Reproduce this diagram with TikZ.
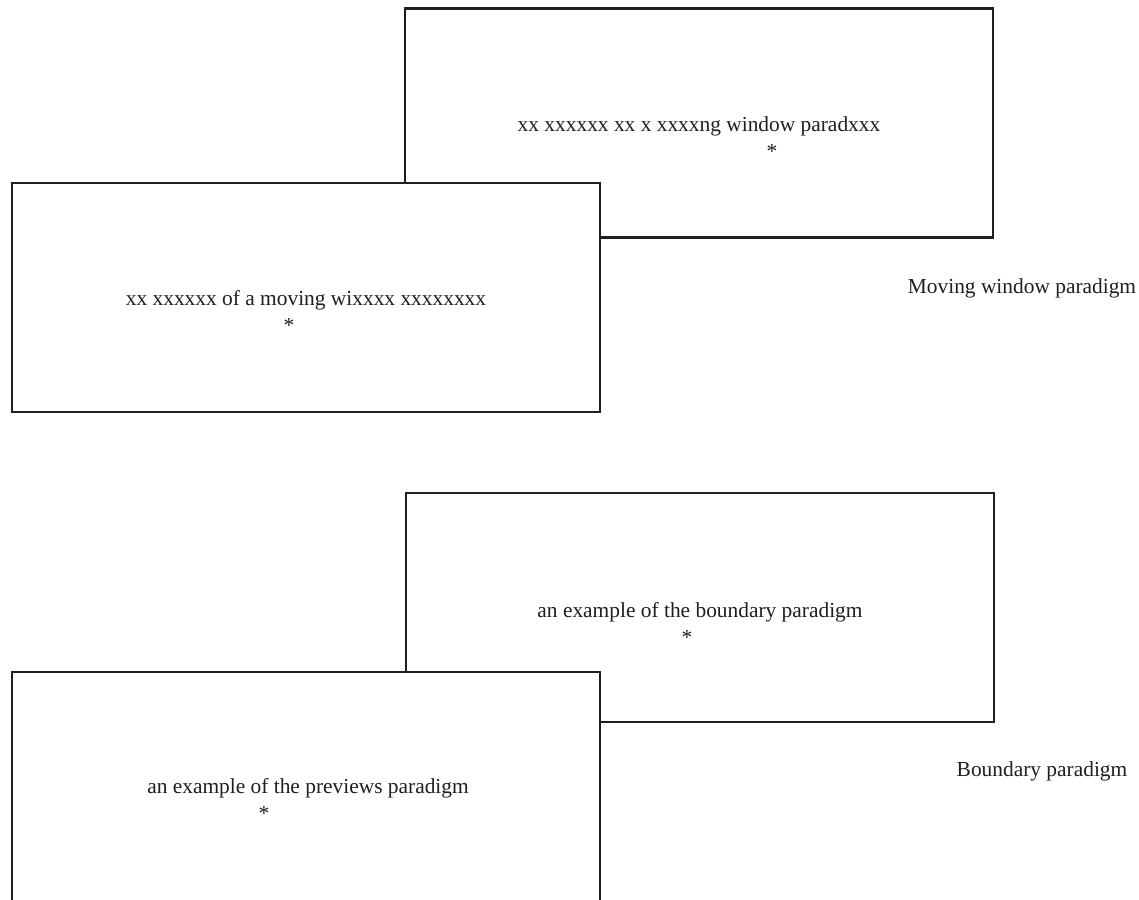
\documentclass[tikz,border=0pt]{standalone}
\usepackage{fontspec}
\setmainfont{Liberation Serif}
\tikzset{panel/.style={draw=black!88, line width=2.1pt, fill=white, inner sep=0pt, minimum width=588pt, minimum height=229pt}}
\tikzset{caption/.style={anchor=base, inner sep=0pt, text=black!88}}

\begin{document}
\begin{tikzpicture}[x=1pt, y=-1pt, font=\fontsize{21.4}{25}\selectfont]
    \useasboundingbox (0,0) rectangle (1139,899);
    \clip (0,0) rectangle (1139,899);

    % moving window pair
    \node[panel] at (699,123) (mwback){};
    \node[caption] at ([yshift = -8pt]mwback.center) (mwbacktext){xx xxxxxx xx x xxxxng window paradxxx};
    \node[caption] at ([xshift = 73pt, yshift = -27pt]mwbacktext.base) (mwbackstar){*};

    \node[panel] at (306,297.5) (mwfront){};
    \node[caption] at ([yshift = -8pt]mwfront.center) (mwfronttext){xx xxxxxx of a moving wixxxx xxxxxxxx};
    \node[caption] at ([xshift = -17pt, yshift = -27pt]mwfronttext.base) (mwfrontstar){*};

    \node[caption] at (1022,293) (mwlabel){Moving window paradigm};

    % boundary pair
    \node[panel] at (700,607.5) (bback){};
    \node[caption] at ([yshift = -10pt]bback.center) (bbacktext){an example of the boundary paradigm};
    \node[caption] at ([xshift = -13pt, yshift = -27pt]bbacktext.base) (bbackstar){*};

    \node[panel] at (306,786.5) (bfront){};
    \node[caption] at ([xshift = 2pt, yshift = -7pt]bfront.center) (bfronttext){an example of the previews paradigm};
    \node[caption] at ([xshift = -44pt, yshift = -27pt]bfronttext.base) (bfrontstar){*};

    \node[caption] at (1042,776) (blabel){Boundary paradigm};
\end{tikzpicture}
\end{document}
